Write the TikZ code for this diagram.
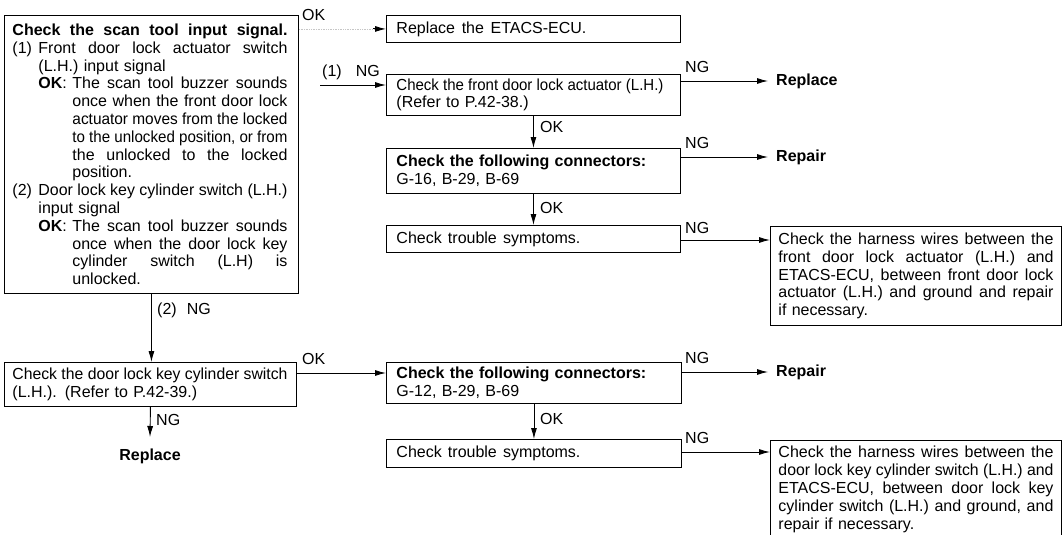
\documentclass[tikz,border=0pt]{standalone}
\usepackage{fontspec}
\setmainfont{Liberation Sans}
\usepackage{graphicx}
\usetikzlibrary{arrows.meta,calc}
\newsavebox\jlbox
\newcommand\jl[2]{\leavevmode\sbox\jlbox{\spaceskip=0.278em plus 1fil\relax #2}\ifdim\wd\jlbox>#1\relax\resizebox{#1}{\height}{\usebox\jlbox}\else\hbox to #1{\unhcopy\jlbox}\fi}
\newcommand\fs{\fontsize{16pt}{17.8pt}\selectfont}
\tikzset{
  box/.style={draw, line width=0.9pt, anchor=north west, inner xsep=8pt, inner ysep=0pt, align=left, font={\fs\parindent=0pt}},
  rbox/.style={box, inner xsep=10pt},
  lab/.style={inner sep=0pt, font=\fs},
  blab/.style={inner sep=0pt, font=\fs\bfseries},
  arr/.style={line width=0.9pt, -{Latex[length=11pt,width=6pt]}},
  faded/.style={line width=0.7pt, gray!45, densely dotted},
}
\begin{document}
\begin{tikzpicture}[x=1pt,y=-1pt]
\useasboundingbox (0,0) rectangle (1062,535);

% ---- left column ----
\node[box, minimum width=294pt, minimum height=278pt, text width=278pt] (main) at (4,15) {%
\jl{275pt}{\bfseries Check the scan tool input signal.}\\
\makebox[26pt][l]{(1)}\jl{249pt}{Front door lock actuator switch}\\
\hspace*{26pt}(L.H.) input signal\\
\hspace*{26pt}\makebox[34pt][l]{\textbf{OK}:}\jl{215pt}{The scan tool buzzer sounds}\\
\hspace*{60pt}\jl{215pt}{once when the front door lock}\\
\hspace*{60pt}\jl{215pt}{actuator moves from the locked}\\
\hspace*{60pt}\jl{215pt}{to the unlocked position, or from}\\
\hspace*{60pt}\jl{215pt}{the unlocked to the locked}\\
\hspace*{60pt}position.\\
\makebox[26pt][l]{(2)}\jl{249pt}{Door lock key cylinder switch (L.H.)}\\
\hspace*{26pt}input signal\\
\hspace*{26pt}\makebox[34pt][l]{\textbf{OK}:}\jl{215pt}{The scan tool buzzer sounds}\\
\hspace*{60pt}\jl{215pt}{once when the door lock key}\\
\hspace*{60pt}\jl{215pt}{cylinder switch (L.H) is}\\
\hspace*{60pt}unlocked.};

\node[box, minimum width=292pt, minimum height=44pt, text width=276pt] (door) at (4,362) {%
\jl{275pt}{Check the door lock key cylinder switch}\\
(L.H.). (Refer to P.42-39.)};

\node[blab, anchor=north, inner xsep=0pt, inner ysep=12pt] (rep3) at (150,437) {Replace};

% ---- middle column ----
\node[rbox, minimum width=294pt, minimum height=27pt, text width=274pt] (etacs) at (386,15) {%
\jl{190pt}{Replace the ETACS-ECU.}};

\node[rbox, minimum width=294pt, minimum height=41pt, text width=274pt] (act) at (386,74) {%
\jl{267pt}{Check the front door lock actuator (L.H.)}\\
(Refer to P.42-38.)};

\node[rbox, minimum width=294pt, minimum height=45pt, text width=274pt] (conn1) at (386,148) {%
\textbf{Check the following connectors:}\\
G-16, B-29, B-69};

\node[rbox, minimum width=294pt, minimum height=27pt, text width=274pt] (trouble1) at (386,225) {%
\jl{184pt}{Check trouble symptoms.}};

\node[rbox, minimum width=295pt, minimum height=41pt, text width=275pt] (conn2) at (386,362) {%
\textbf{Check the following connectors:}\\
G-12, B-29, B-69};

\node[rbox, minimum width=295pt, minimum height=28pt, text width=275pt] (trouble2) at (386,439) {%
\jl{184pt}{Check trouble symptoms.}};

% ---- right column ----
\node[blab, anchor=west, inner xsep=8pt] (rep1) at (768,81) {Replace};
\node[blab, anchor=west, inner xsep=8pt] (rep2) at (768,157) {Repair};
\node[blab, anchor=west, inner xsep=8pt] (rep4) at (768,372) {Repair};

\node[box, minimum width=291pt, minimum height=99pt, text width=275pt] (harness1) at (770,226) {%
\jl{275pt}{Check the harness wires between the}\\
\jl{275pt}{front door lock actuator (L.H.) and}\\
\jl{275pt}{ETACS-ECU, between front door lock}\\
\jl{275pt}{actuator (L.H.) and ground and repair}\\
if necessary.};

\node[box, minimum width=291pt, minimum height=98pt, text width=275pt] (harness2) at (770,440) {%
\jl{275pt}{Check the harness wires between the}\\
\jl{275pt}{door lock key cylinder switch (L.H.) and}\\
\jl{275pt}{ETACS-ECU, between door lock key}\\
\jl{275pt}{cylinder switch (L.H.) and ground, and}\\
repair if necessary.};

% ---- helper coordinates ----
\coordinate (ng1) at (320,85);
\coordinate (h1) at (720,240);
\coordinate (d2) at (340,373);
\coordinate (h2) at (720,452);

% ---- connectors ----
\draw[faded] (main.east |- etacs.west) -- ([xshift=-12pt]etacs.west);
\draw[arr] ([xshift=-13pt]etacs.west) -- (etacs.west);
\node[lab, anchor=base west] (okA) at (302,21) {OK};

\draw[arr] (ng1) -- (ng1 -| act.west);
\node[lab, anchor=base west] (ng1l) at (322,76) {(1)\hspace{14pt}NG};

\draw[arr] (act.east |- rep1.west) -- (rep1.west);
\node[lab, anchor=base west] (ngA) at (685,73) {NG};

\draw[arr] (act.south) -- (conn1.north);
\node[lab, anchor=base west] (okB) at (540,132) {OK};

\draw[arr] (conn1.east |- rep2.west) -- (rep2.west);
\node[lab, anchor=base west] (ngB) at (685,148) {NG};

\draw[arr] (conn1.south) -- (trouble1.north);
\node[lab, anchor=base west] (okC) at (540,213) {OK};

\draw[arr] (trouble1.east |- h1) -- (harness1.west |- h1);
\node[lab, anchor=base west] (ngC) at (685,233) {NG};

\draw[arr] (main.south) -- (main.south |- door.north);
\node[lab, anchor=base west] (ng2l) at (157,314) {(2)\hspace{10pt}NG};

\draw[arr] (door.east |- d2) -- (conn2.west |- d2);
\node[lab, anchor=base west] (okD) at (302,364) {OK};

\draw[arr] (door.south) -- (rep3.north);
\node[lab, anchor=base west] (ngD) at (156,425) {NG};

\draw[arr] (conn2.east |- rep4.west) -- (rep4.west);
\node[lab, anchor=base west] (ngE) at (685,363) {NG};

\draw[arr] (conn2.south) -- (trouble2.north);
\node[lab, anchor=base west] (okE) at (540,424) {OK};

\draw[arr] (trouble2.east |- h2) -- (harness2.west |- h2);
\node[lab, anchor=base west] (ngF) at (685,443) {NG};
\end{tikzpicture}
\end{document}
